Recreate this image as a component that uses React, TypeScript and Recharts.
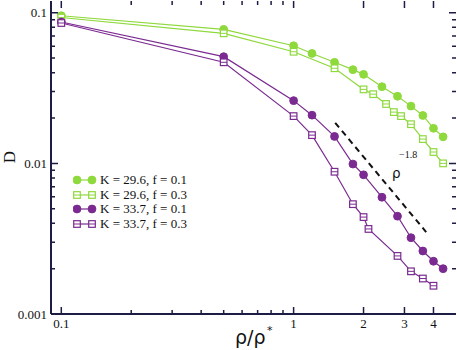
import { LineChart, Line, XAxis, YAxis } from "recharts";

const X_GREEN = [0.1, 0.5, 1.0, 1.2, 1.5, 1.8, 2.0, 2.4, 2.8, 3.2, 3.6, 4.0, 4.4];
const D_K296_F01 = [0.0955, 0.0776, 0.0604, 0.0537, 0.0469, 0.0419, 0.039, 0.0323, 0.0279, 0.024, 0.0208, 0.0171, 0.015];

const X_K296_F03 = [0.1, 0.5, 1.0, 1.5, 2.0, 2.2, 2.5, 2.7, 2.9, 3.2, 3.6, 4.0, 4.4];
const D_K296_F03 = [0.093, 0.073, 0.0551, 0.0428, 0.031, 0.0288, 0.0248, 0.0219, 0.0206, 0.0182, 0.0145, 0.0119, 0.01];

const X_K337_F01 = [0.1, 0.5, 1.0, 1.2, 1.5, 1.8, 2.0, 2.4, 2.8, 3.2, 3.6, 4.0, 4.4];
const D_K337_F01 = [0.0868, 0.0511, 0.0261, 0.0209, 0.0151, 0.0099, 0.0084, 0.00596, 0.00446, 0.00321, 0.00262, 0.00224, 0.002];

const X_K337_F03 = [0.1, 0.5, 1.0, 1.2, 1.5, 1.8, 2.0, 2.1, 2.8, 3.2, 3.6, 4.0];
const D_K337_F03 = [0.0855, 0.0469, 0.0206, 0.0154, 0.0088, 0.00536, 0.0044, 0.00367, 0.00243, 0.00192, 0.00172, 0.00154];

// power-law guide, slope -1.8
const X_GUIDE = [1.51, 3.72];
const D_GUIDE = [0.0186, 0.0035];

const X_DOMAIN = [0.0903, 5.0];
const Y_DOMAIN = [0.001, 0.1197];
const X_MAJOR = [0.1, 1, 2, 3, 4];
const X_MINOR = [0.2, 0.3, 0.4, 0.5, 0.6, 0.7, 0.8, 0.9];
const Y_MAJOR = [0.001, 0.01, 0.1];
const Y_MINOR = [0.002, 0.003, 0.004, 0.005, 0.006, 0.007, 0.008, 0.009, 0.02, 0.03, 0.04, 0.05, 0.06, 0.07, 0.08, 0.09];

const GREEN = "#8ed93c";
const PURPLE = "#7a2a90";
const INK = "#111111";
const FRAME_INK = "#1c1c44";
const FONT = "Liberation Serif, serif";
const SANS = "DejaVu Sans, sans-serif";

const W = 457;
const H = 350;
const MARGIN = { top: 1, right: 1, left: 0, bottom: 0 };
const PLOT_TOP = MARGIN.top;
const PLOT_RIGHT = W - MARGIN.right;
const TICK_OFF = 8; // default tickSize + tickMargin

const toPoints = (xs: number[], ys: number[]) => xs.map((x, i) => ({ x, y: ys[i] }));
const byValue = (a: number, b: number) => a - b;

const series = [
  { name: "K = 29.6, f = 0.1", color: GREEN, open: false, data: toPoints(X_GREEN, D_K296_F01) },
  { name: "K = 29.6, f = 0.3", color: GREEN, open: true, data: toPoints(X_K296_F03, D_K296_F03) },
  { name: "K = 33.7, f = 0.1", color: PURPLE, open: false, data: toPoints(X_K337_F01, D_K337_F01) },
  { name: "K = 33.7, f = 0.3", color: PURPLE, open: true, data: toPoints(X_K337_F03, D_K337_F03) },
];

function Marker({ cx, cy, color, open }: any) {
  if (cx == null || cy == null) return null;
  if (open) {
    return (
      <g>
        <rect x={cx - 3.3} y={cy - 3.3} width={6.6} height={6.6} fill="white" stroke={color} strokeWidth={1.2} />
        <line x1={cx - 3.3} x2={cx + 3.3} y1={cy} y2={cy} stroke={color} strokeWidth={1} />
      </g>
    );
  }
  return <circle cx={cx} cy={cy} r={3.9} fill={color} stroke={color} />;
}

function XTick(props: any) {
  const { x, y, payload } = props;
  const axisY = Number(y) - TICK_OFF;
  const px = Number(x);
  const major = X_MAJOR.includes(payload.value);
  const len = major ? 7 : 4;
  return (
    <g>
      <path d={`M${px},${axisY}V${axisY - len}M${px},${PLOT_TOP}V${PLOT_TOP + len}`} stroke={FRAME_INK} strokeWidth={1.5} fill="none" />
      {major && (
        <text x={px} y={axisY + 14} textAnchor="middle" fontSize={13} fontFamily={FONT} fill={INK}>
          {payload.value}
        </text>
      )}
    </g>
  );
}

function YTick(props: any) {
  const { x, y, payload } = props;
  const axisX = Number(x) + TICK_OFF;
  const py = Number(y);
  const major = Y_MAJOR.includes(payload.value);
  const len = major ? 7 : 4;
  return (
    <g>
      <path d={`M${axisX},${py}H${axisX + len}M${PLOT_RIGHT},${py}H${PLOT_RIGHT - len}`} stroke={FRAME_INK} strokeWidth={1.5} fill="none" />
      {major && (
        <text x={axisX - 4} y={py + 4.5} textAnchor="end" fontSize={13} fontFamily={FONT} fill={INK}>
          {payload.value}
        </text>
      )}
    </g>
  );
}

// top and right edges of the frame, drawn at the axis extremes
function TopEdge(props: any) {
  const { x, payload } = props;
  if (payload.value !== X_MAJOR[0]) return null;
  return null;
}

function LegendBox() {
  return (
    <div style={{ position: "absolute", left: 73, top: 172.5, fontFamily: FONT, fontSize: 13, color: INK }}>
      {series.map((s) => (
        <div key={s.name} style={{ display: "flex", alignItems: "center", height: 14.7, whiteSpace: "nowrap" }}>
          <svg width={27} height={14} style={{ display: "block" }}>
            <line x1={4} x2={19} y1={7} y2={7} stroke={s.color} strokeWidth={1.2} />
            <Marker cx={4} cy={7} color={s.color} open={s.open} />
            <Marker cx={19} cy={7} color={s.color} open={s.open} />
          </svg>
          <span>{s.name}</span>
        </div>
      ))}
    </div>
  );
}

export default function App() {
  return (
    <div style={{ position: "absolute", left: 0, top: 0, width: W, height: H, background: "white" }}>
      <svg width={W} height={H} style={{ position: "absolute", left: 0, top: 0 }}>
        <text transform="translate(15,157) rotate(-90)" textAnchor="middle" fontSize={17} fontFamily={FONT} fill={INK}>
          D
        </text>
        <text x={235} y={344} fontSize={19} fontFamily={SANS} fill={INK}>
          ρ/ρ
        </text>
        <text x={267} y={334} fontSize={11} fontFamily={SANS} fill={INK}>
          *
        </text>
        <text x={392} y={178} fontSize={13.5} fontFamily={SANS} fill={INK}>
          ρ
        </text>
        <text x={399} y={158} fontSize={10} fontFamily={FONT} fill={INK}>
          −1.8
        </text>
      </svg>
      <LineChart width={W} height={H} margin={MARGIN}>
        <XAxis
          dataKey="x"
          type="number"
          scale="log"
          domain={X_DOMAIN}
          allowDataOverflow
          ticks={[...X_MAJOR, ...X_MINOR].sort(byValue)}
          interval={0}
          height={36}
          axisLine={{ stroke: FRAME_INK, strokeWidth: 2 }}
          tickLine={false}
          tick={(p: any) => <XTick {...p} />}
        />
        <YAxis
          dataKey="y"
          type="number"
          scale="log"
          domain={Y_DOMAIN}
          allowDataOverflow
          ticks={[...Y_MAJOR, ...Y_MINOR].sort(byValue)}
          interval={0}
          width={51}
          axisLine={{ stroke: FRAME_INK, strokeWidth: 2 }}
          tickLine={false}
          tick={(p: any) => <YTick {...p} />}
        />
        <XAxis
          xAxisId="top"
          orientation="top"
          dataKey="x"
          type="number"
          scale="log"
          domain={X_DOMAIN}
          allowDataOverflow
          height={0}
          tick={false}
          tickLine={false}
          axisLine={{ stroke: FRAME_INK, strokeWidth: 2 }}
        />
        <YAxis
          yAxisId="right"
          orientation="right"
          dataKey="y"
          type="number"
          scale="log"
          domain={Y_DOMAIN}
          allowDataOverflow
          width={0}
          tick={false}
          tickLine={false}
          axisLine={{ stroke: FRAME_INK, strokeWidth: 2 }}
        />
        <Line
          data={toPoints(X_GUIDE, D_GUIDE)}
          dataKey="y"
          stroke={INK}
          strokeWidth={2}
          strokeDasharray="6 4.5"
          dot={false}
          isAnimationActive={false}
        />
        {series.map((s) => (
          <Line
            key={s.name}
            name={s.name}
            data={s.data}
            dataKey="y"
            stroke={s.color}
            strokeWidth={1.2}
            dot={(p: any) => <Marker key={`${s.name}-${p.index}`} cx={p.cx} cy={p.cy} color={s.color} open={s.open} />}
            isAnimationActive={false}
          />
        ))}
      </LineChart>
      <LegendBox />
    </div>
  );
}
